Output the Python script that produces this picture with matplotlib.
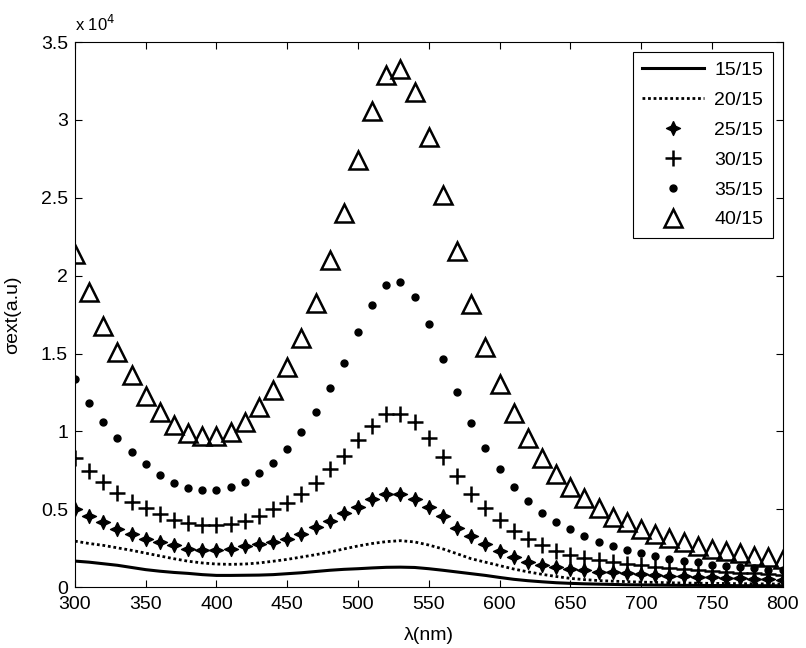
import numpy as np
import matplotlib
matplotlib.use('Agg')
import matplotlib.pyplot as plt
from matplotlib.ticker import FuncFormatter

plt.rcParams['font.family'] = ['Liberation Sans', 'DejaVu Sans']

# wavelength (nm), values in units of 1e4
wl = np.arange(300, 801, 10)

s15 = [0.167, 0.16, 0.15, 0.14, 0.126, 0.112, 0.102, 0.094, 0.088, 0.08,
       0.075, 0.075, 0.076, 0.077, 0.08, 0.086, 0.092, 0.1, 0.108, 0.114,
       0.118, 0.123, 0.127, 0.128, 0.126, 0.118, 0.108, 0.097, 0.086, 0.075,
       0.062, 0.05, 0.041, 0.034, 0.028, 0.024, 0.021, 0.019, 0.017, 0.015,
       0.014, 0.013, 0.012, 0.011, 0.011, 0.01, 0.01, 0.009, 0.009, 0.009, 0.008]
s20 = [0.295, 0.28, 0.268, 0.252, 0.236, 0.218, 0.2, 0.182, 0.166, 0.155,
       0.148, 0.146, 0.148, 0.155, 0.166, 0.178, 0.193, 0.208, 0.225, 0.245,
       0.264, 0.28, 0.292, 0.298, 0.29, 0.27, 0.245, 0.214, 0.182, 0.16,
       0.138, 0.116, 0.098, 0.082, 0.068, 0.056, 0.048, 0.042, 0.038, 0.035,
       0.032, 0.03, 0.028, 0.026, 0.025, 0.024, 0.023, 0.022, 0.021, 0.02, 0.02]
s25 = [0.499, 0.456, 0.415, 0.376, 0.344, 0.312, 0.29, 0.269, 0.247, 0.237,
       0.237, 0.247, 0.262, 0.275, 0.29, 0.312, 0.344, 0.383, 0.425, 0.477,
       0.516, 0.567, 0.597, 0.597, 0.567, 0.516, 0.454, 0.379, 0.326, 0.275,
       0.23, 0.195, 0.161, 0.142, 0.126, 0.115, 0.107, 0.1, 0.094, 0.089,
       0.084, 0.079, 0.074, 0.07, 0.066, 0.062, 0.059, 0.056, 0.053, 0.05, 0.047]
s30 = [0.828, 0.746, 0.673, 0.606, 0.548, 0.51, 0.469, 0.434, 0.413, 0.398,
       0.398, 0.404, 0.426, 0.458, 0.499, 0.538, 0.6, 0.67, 0.757, 0.842,
       0.946, 1.037, 1.113, 1.113, 1.06, 0.959, 0.838, 0.711, 0.597, 0.505,
       0.431, 0.363, 0.31, 0.271, 0.234, 0.207, 0.19, 0.175, 0.162, 0.15,
       0.14, 0.13, 0.122, 0.115, 0.108, 0.102, 0.097, 0.092, 0.088, 0.084, 0.08]
s35 = [1.338, 1.183, 1.06, 0.957, 0.865, 0.791, 0.718, 0.667, 0.639, 0.626,
       0.626, 0.645, 0.677, 0.731, 0.8, 0.886, 0.995, 1.125, 1.281, 1.441,
       1.641, 1.813, 1.937, 1.958, 1.866, 1.692, 1.467, 1.251, 1.051, 0.891,
       0.757, 0.643, 0.551, 0.477, 0.418, 0.37, 0.329, 0.289, 0.261, 0.235,
       0.218, 0.201, 0.18, 0.169, 0.158, 0.143, 0.137, 0.128, 0.122, 0.111, 0.107]
s40 = [2.14, 1.895, 1.68, 1.51, 1.36, 1.23, 1.124, 1.04, 0.99, 0.968,
       0.968, 0.995, 1.06, 1.156, 1.263, 1.413, 1.597, 1.825, 2.1, 2.403,
       2.743, 3.06, 3.289, 3.328, 3.179, 2.892, 2.52, 2.157, 1.82, 1.542,
       1.304, 1.118, 0.959, 0.831, 0.725, 0.646, 0.571, 0.507, 0.453, 0.415,
       0.372, 0.342, 0.314, 0.289, 0.265, 0.246, 0.229, 0.218, 0.201, 0.193, 0.18]

labels = ['15/15', '20/15', '25/15', '30/15', '35/15', '40/15']

# 4-point star (plus with filled center) for 25/15
star = [(0, 1), (0.32, 0.32), (1, 0), (0.32, -0.32), (0, -1), (-0.32, -0.32),
        (-1, 0), (-0.32, 0.32), (0, 1)]

fig = plt.figure(figsize=(8.06, 6.48), dpi=100)
ax = fig.add_axes([0.093, 0.094, 0.878, 0.841])

sc = 1e4
ax.plot(wl, np.array(s15) * sc, 'k-', lw=2.2, label=labels[0])
ax.plot(wl, np.array(s20) * sc, color='k', ls=(0, (1, 1)), lw=2.0, label=labels[1])
ax.plot(wl, np.array(s25) * sc, ls='none', marker=star, ms=10, color='k', label=labels[2])
ax.plot(wl, np.array(s30) * sc, ls='none', marker='+', ms=11, mew=1.8, color='k', label=labels[3])
ax.plot(wl, np.array(s35) * sc, ls='none', marker='o', ms=5, color='k', label=labels[4])
ax.plot(wl, np.array(s40) * sc, ls='none', marker='^', ms=13, mew=1.8, mfc='none', mec='k', label=labels[5])

ax.set_xlim(300, 800)
ax.set_ylim(0, 3.5e4)
ax.set_xticks(np.arange(300, 801, 50))
ax.set_yticks(np.arange(0, 3.51e4, 0.5e4))
ax.yaxis.set_major_formatter(FuncFormatter(lambda v, p: '%g' % (v / 1e4)))
ax.tick_params(direction='in', length=5, width=0.8, top=True, right=True, labelsize=14)
ax.tick_params(axis='x', pad=6.5)
ax.tick_params(axis='y', pad=5)
for s in ax.spines.values():
    s.set_linewidth(0.8)

ax.text(0.0, 1.015, r'x 10$^{4}$', transform=ax.transAxes, ha='left', va='bottom', fontsize=12)
ax.set_xlabel('λ(nm)', fontsize=14, labelpad=10)
ax.set_ylabel('σext(a.u)', fontsize=14, labelpad=14)

leg = ax.legend(loc='upper right', fontsize=14, numpoints=1, handlelength=3.2,
                labelspacing=0.63, borderaxespad=0.5, fancybox=False,
                edgecolor='k', framealpha=1, borderpad=0.5, handletextpad=0.5)
leg.get_frame().set_linewidth(0.8)

fig.savefig('out.png', dpi=100)
